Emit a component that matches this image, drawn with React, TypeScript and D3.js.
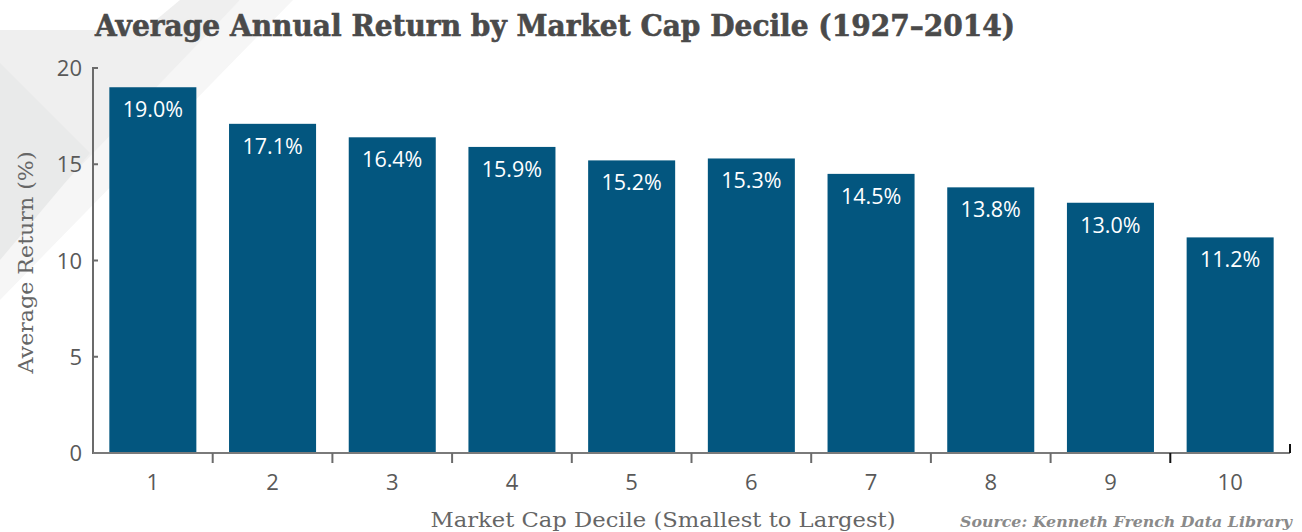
import React from "react";
import * as d3 from "d3";

const categories = ["1", "2", "3", "4", "5", "6", "7", "8", "9", "10"];
const returns = [19.0, 17.1, 16.4, 15.9, 15.2, 15.3, 14.5, 13.8, 13.0, 11.2];
const yTicks = [0, 5, 10, 15, 20];
const title = "Average Annual Return by Market Cap Decile (1927–2014)";
const yTitle = "Average Return (%)";
const xTitle = "Market Cap Decile (Smallest to Largest)";
const source = "Source: Kenneth French Data Library";

const W = 1302;
const H = 532;
const margin = { left: 93, right: 12, top: 68, bottom: 79 };

export default function App() {
  const x = d3
    .scaleBand<string>()
    .domain(categories)
    .range([margin.left, W - margin.right])
    .paddingInner(0.273)
    .paddingOuter(0.1365);
  const y = d3.scaleLinear().domain([0, 20]).range([H - margin.bottom, margin.top]);
  const step = x.step();
  const x0 = margin.left;
  const x1 = W - margin.right;
  const y0 = y(0);

  const bg1 = [[240, 0], [293, 0], [0, 300], [0, 243]];
  const bg2 = [[180, 0], [240, 0], [0, 250], [0, 30], [144, 30]];
  const bg3 = [[0, 63], [90, 153], [0, 260]];
  const toPts = (a: number[][]) => a.map((p) => p.join(",")).join(" ");

  return (
    <svg
      width={W}
      height={H}
      style={{ position: "absolute", left: 0, top: 0, background: "#fff" }}
    >
      <polygon points={toPts(bg1)} fill="#f6f6f6" />
      <polygon points={toPts(bg2)} fill="#efefef" />
      <polygon points={toPts(bg3)} fill="#e9eaea" />

      <text
        x={95}
        y={36}
        fontFamily="'DejaVu Serif', serif"
        fontWeight="bold"
        fontSize={29}
        fill="#4a4a4a"
        stroke="#4a4a4a"
        strokeWidth={0.6}
        textLength={920}
        lengthAdjust="spacingAndGlyphs"
      >
        {title}
      </text>

      {categories.map((c, i) => (
        <g key={c}>
          <rect
            x={x(c)}
            y={y(returns[i])}
            width={x.bandwidth()}
            height={y0 - y(returns[i])}
            fill="#03567f"
          />
          <text
            x={(x(c) ?? 0) + x.bandwidth() / 2}
            y={y(returns[i]) + 30}
            textAnchor="middle"
            fontFamily="'Open Sans', sans-serif"
            fontSize={21.5}
            fill="#ffffff"
          >
            {returns[i].toFixed(1) + "%"}
          </text>
          <text
            x={(x(c) ?? 0) + x.bandwidth() / 2}
            y={490}
            textAnchor="middle"
            fontFamily="'Open Sans', sans-serif"
            fontSize={22}
            fill="#595959"
          >
            {c}
          </text>
        </g>
      ))}

      {/* y axis */}
      <line x1={x0} x2={x0} y1={y(20) - 1} y2={y0 + 1} stroke="#6b6b6b" strokeWidth={2} />
      {yTicks.map((t) => (
        <g key={t}>
          <line x1={x0} x2={x0 + 5} y1={y(t)} y2={y(t)} stroke="#6b6b6b" strokeWidth={2} />
          <text
            x={82}
            y={y(t) + 8}
            textAnchor="end"
            fontFamily="'Open Sans', sans-serif"
            fontSize={22}
            fill="#595959"
          >
            {t}
          </text>
        </g>
      ))}

      {/* x axis */}
      <line x1={x0} x2={x1} y1={y0} y2={y0} stroke="#7a7a7a" strokeWidth={2} />
      {categories.slice(1).map((c, i) => (
        <line
          key={c}
          x1={x0 + (i + 1) * step}
          x2={x0 + (i + 1) * step}
          y1={y0}
          y2={y0 + 10}
          stroke={i === 8 ? "#111" : "#6b6b6b"}
          strokeWidth={2}
        />
      ))}
      <line x1={x1} x2={x1} y1={y0 - 9} y2={y0} stroke="#111" strokeWidth={2} />

      <text
        transform={`translate(33,${(y(20) + y0) / 2 + 2}) rotate(-90)`}
        textAnchor="middle"
        fontFamily="'DejaVu Serif', serif"
        fontSize={20}
        fill="#666666"
        textLength={222}
        lengthAdjust="spacingAndGlyphs"
      >
        {yTitle}
      </text>
      <text
        x={663}
        y={527}
        textAnchor="middle"
        fontFamily="'DejaVu Serif', serif"
        fontSize={20}
        fill="#666666"
        textLength={465}
        lengthAdjust="spacingAndGlyphs"
      >
        {xTitle}
      </text>
      <text
        x={1292}
        y={527}
        textAnchor="end"
        fontFamily="'DejaVu Serif', serif"
        fontWeight="bold"
        fontStyle="italic"
        fontSize={15}
        fill="#8a8a8a"
        textLength={332}
        lengthAdjust="spacingAndGlyphs"
      >
        {source}
      </text>
    </svg>
  );
}
